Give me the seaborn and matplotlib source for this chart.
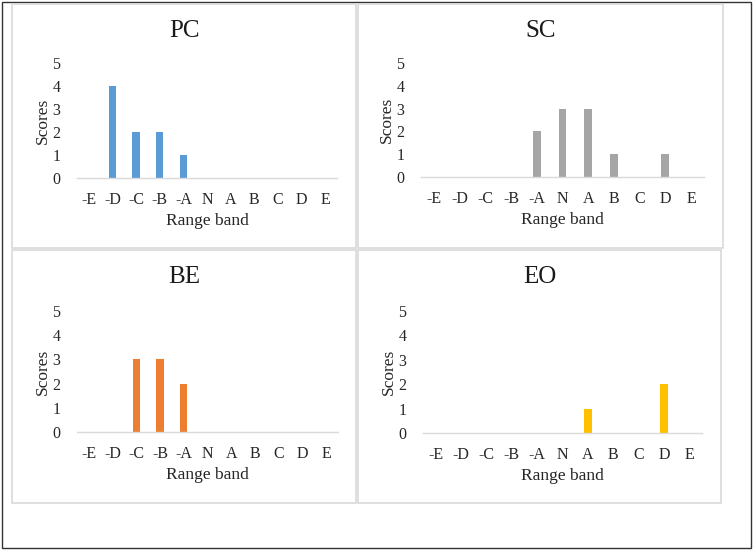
import matplotlib
matplotlib.use("Agg")
import matplotlib.pyplot as plt
from matplotlib.patches import Rectangle
import seaborn as sns
import pandas as pd

categories = ["-E", "-D", "-C", "-B", "-A", "N", "A", "B", "C", "D", "E"]
pc_scores = [0, 4, 2, 2, 1, 0, 0, 0, 0, 0, 0]
sc_scores = [0, 0, 0, 0, 2, 3, 3, 1, 0, 1, 0]
be_scores = [0, 0, 3, 3, 2, 0, 0, 0, 0, 0, 0]
eo_scores = [0, 0, 0, 0, 0, 0, 1, 0, 0, 2, 0]
titles = ["PC", "SC", "BE", "EO"]
colors = ["#5B9BD5", "#A5A5A5", "#ED7D31", "#FFC000"]
y_ticks = [0, 1, 2, 3, 4, 5]

sns.set_theme(style="white")
plt.rcParams["font.family"] = ["Liberation Serif", "DejaVu Serif"]

W, H = 756, 551
fig = plt.figure(figsize=(W / 100, H / 100), dpi=100)

def fx(x):
    return x / W

def fy(y):
    return 1 - y / H

# outer border
fig.patches.append(Rectangle((fx(2), fy(548)), fx(751) - fx(2), fy(2) - fy(548),
                             transform=fig.transFigure, fill=False,
                             edgecolor="#333333", linewidth=1.0))

# panel boxes (left, top, right, bottom) in pixels
panels = [(12, 4, 356, 248), (358, 4, 723, 248), (12, 250, 356, 503), (358, 250, 721, 503)]
# axes boxes (left, top, right, bottom) in pixels
axes_px = [(77, 63, 337, 178), (421, 63, 704, 177), (77, 311, 338, 432), (423, 311, 702, 433)]
series = [pc_scores, sc_scores, be_scores, eo_scores]

for (pl, pt, pr, pb), (al, at, ar, ab), vals, title, col in zip(panels, axes_px, series, titles, colors):
    fig.patches.append(Rectangle((fx(pl), fy(pb)), fx(pr) - fx(pl), fy(pt) - fy(pb),
                                 transform=fig.transFigure, fill=False,
                                 edgecolor="#D9D9D9", linewidth=1.2))
    ax = fig.add_axes([fx(al), fy(ab), fx(ar) - fx(al), fy(at) - fy(ab)])
    ax.set_facecolor("none")
    df = pd.DataFrame({"band": categories, "score": vals})
    sns.barplot(data=df, x="band", y="score", order=categories, color=col,
                width=0.31, saturation=1, linewidth=0, ax=ax)
    ax.set_ylim(0, 5)
    ax.set_xlim(-0.5, len(categories) - 0.5)
    ax.set_yticks(y_ticks)
    ax.tick_params(axis="both", length=0, labelsize=11.5, colors="#262626")
    ax.tick_params(axis="x", pad=10)
    ax.tick_params(axis="y", pad=12)
    for s in ["top", "right", "left"]:
        ax.spines[s].set_visible(False)
    ax.spines["bottom"].set_color("#D9D9D9")
    ax.spines["bottom"].set_linewidth(1.0)
    ax.grid(False)
    ax.set_xlabel("Range band", fontsize=12.5, color="#262626")
    ax.set_ylabel("Scores", fontsize=12.5, color="#262626")
    ah = ab - at
    aw = ar - al
    ax.xaxis.set_label_coords(0.5, -43 / ah)
    ax.xaxis.label.set_va("center")
    ax.yaxis.set_label_coords(-34 / aw, 0.5)
    ax.yaxis.label.set_va("center")
    fig.text(fx((pl + pr) / 2), fy(pt + 27), title, ha="center", va="center",
             fontsize=18, color="#1a1a1a")

fig.savefig("out.png", dpi=100)
